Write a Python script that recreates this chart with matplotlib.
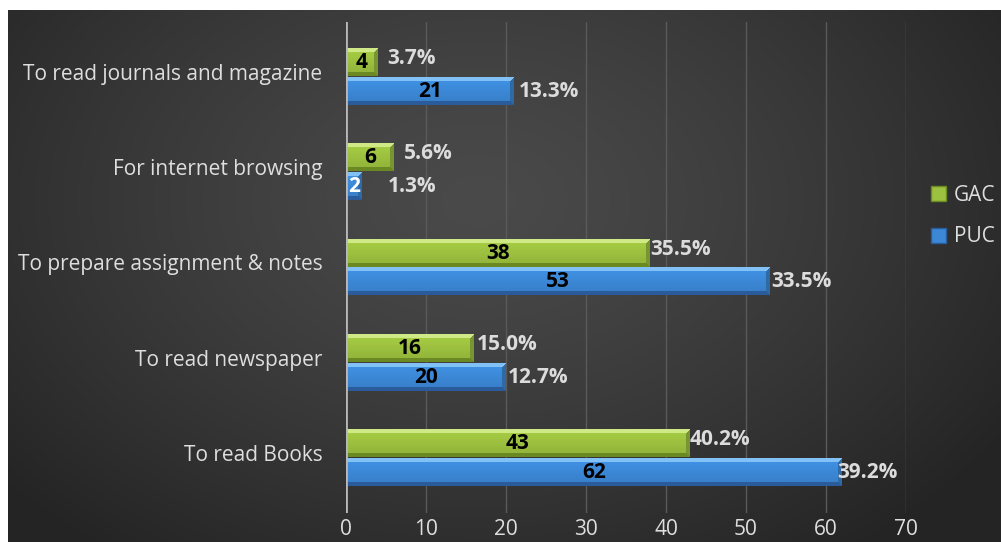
import numpy as np
import matplotlib
matplotlib.use("Agg")
import matplotlib.pyplot as plt
import matplotlib.transforms as mtransforms
from matplotlib.patches import Patch

plt.rcParams['font.family'] = ['Open Sans', 'DejaVu Sans']

# purpose of using the library, bottom category first
categories = ["To read Books", "To read newspaper", "To prepare assignment & notes",
              "For internet browsing", "To read journals and magazine"]
puc = [62, 20, 53, 2, 21]
gac = [43, 16, 38, 6, 4]
puc_pct = ["39.2%", "12.7%", "33.5%", "1.3%", "13.3%"]
gac_pct = ["40.2%", "15.0%", "35.5%", "5.6%", "3.7%"]
x_ticks = [0, 10, 20, 30, 40, 50, 60, 70]

W, H = 1001, 542
fig = plt.figure(figsize=(W / 100, H / 100), dpi=100)
fig.patch.set_facecolor("white")

# dark panel with a soft radial glow
bg = fig.add_axes([8 / W, 0, 1 - 8 / W, 1 - 10 / H])
bg.set_axis_off()
yy, xx = np.mgrid[0:532, 0:993]
r = np.sqrt(((xx - 470) / 620.0) ** 2 + ((yy - 190) / 430.0) ** 2)
shade = 0.29 - 0.145 * np.clip(r, 0, 1) ** 1.3
bg.imshow(np.dstack([shade] * 3), aspect="auto", interpolation="bilinear",
          extent=(0, 1, 0, 1))
bg.set_xlim(0, 1)
bg.set_ylim(0, 1)

ax = fig.add_axes([346 / W, 1 - 513 / H, (906 - 346) / W, (513 - 22) / H])
ax.patch.set_alpha(0)
ax.set_xlim(0, 70)
ax.set_ylim(-0.577, 4.575)

for x in x_ticks[1:]:
    ax.axvline(x, color="#5a5a5a", lw=1, zorder=1)
ax.axvline(0, color="#b8b8b8", lw=2, zorder=4)

for s in ax.spines.values():
    s.set_visible(False)


def bevel_bar(value, yc, h, face, light, dark):
    # bar with bevelled edges, drawn as a small rgb image
    wpx = max(int(round(value * 8)), 2)
    hpx = 28
    b = 4
    i, j = np.mgrid[0:hpx, 0:wpx]
    face = np.array(matplotlib.colors.to_rgb(face))
    light = np.array(matplotlib.colors.to_rgb(light))
    dark = np.array(matplotlib.colors.to_rgb(dark))
    t = (i / (hpx - 1))[..., None]
    img = np.clip(face * (1.08 - 0.16 * t), 0, 1)
    dt, db, dr = i, hpx - 1 - i, wpx - 1 - j
    m = np.minimum(np.minimum(dt, db), dr)
    top = (m < b) & (dt == m)
    bot = (m < b) & (db == m) & ~top
    right = (m < b) & (dr == m) & ~top & ~bot
    img[top] = light
    img[bot] = dark
    img[right] = face * 0.78
    ax.imshow(img, aspect="auto", interpolation="bilinear",
              extent=(0, value, yc - h / 2, yc + h / 2), zorder=3)


pos = np.arange(len(categories))
bh = 0.285
off = 0.15
gac_nudge = [0.0, 0.3, 0.0, 1.2, 1.1]
puc_nudge = [-0.6, 0.2, 0.1, 3.2, 0.6]

for k in pos:
    bevel_bar(gac[k], k + off, bh, "#9cc03f", "#cfea86", "#6a8a22")
    bevel_bar(puc[k], k - off, bh, "#3c88d6", "#82c2f6", "#2a5d9c")
    ax.text(gac[k] / 2, k + off, str(gac[k]), ha="center", va="center",
            fontsize=15, fontweight="bold", color="black", zorder=5)
    ax.text(puc[k] / 2, k - off, str(puc[k]), ha="center", va="center",
            fontsize=15, fontweight="bold",
            color="white" if puc[k] < 5 else "black", zorder=5)
    ax.text(gac[k] + gac_nudge[k], k + off + 0.04, gac_pct[k], ha="left", va="center",
            fontsize=15, fontweight="bold", color="#dcdcdc", zorder=5)
    ax.text(puc[k] + puc_nudge[k], k - off, puc_pct[k], ha="left", va="center",
            fontsize=15, fontweight="bold", color="#dcdcdc", zorder=5)

ax.set_yticks(pos)
ax.set_yticklabels(categories)
ax.set_xticks(x_ticks)
ax.tick_params(axis="y", length=0, pad=17, labelsize=15, labelcolor="#dedede")
ax.tick_params(axis="x", length=0, pad=4, labelsize=15, labelcolor="#dedede")

# category labels sit a little above the group centre
lift = mtransforms.ScaledTranslation(0, 5 / 100, fig.dpi_scale_trans)
for lab in ax.get_yticklabels():
    lab.set_transform(lab.get_transform() + lift)

handles = [Patch(facecolor="#9cc03f", edgecolor="#6a8a22", label="GAC"),
           Patch(facecolor="#3c88d6", edgecolor="#2a5d9c", label="PUC")]
fig.legend(handles=handles, loc="center left", bbox_to_anchor=(912 / W, 1 - 216 / H),
           frameon=False, fontsize=15, labelcolor="#dedede", handlelength=0.75,
           handleheight=0.75, handletextpad=0.35, labelspacing=1.0)

fig.savefig("out.png", dpi=100)
